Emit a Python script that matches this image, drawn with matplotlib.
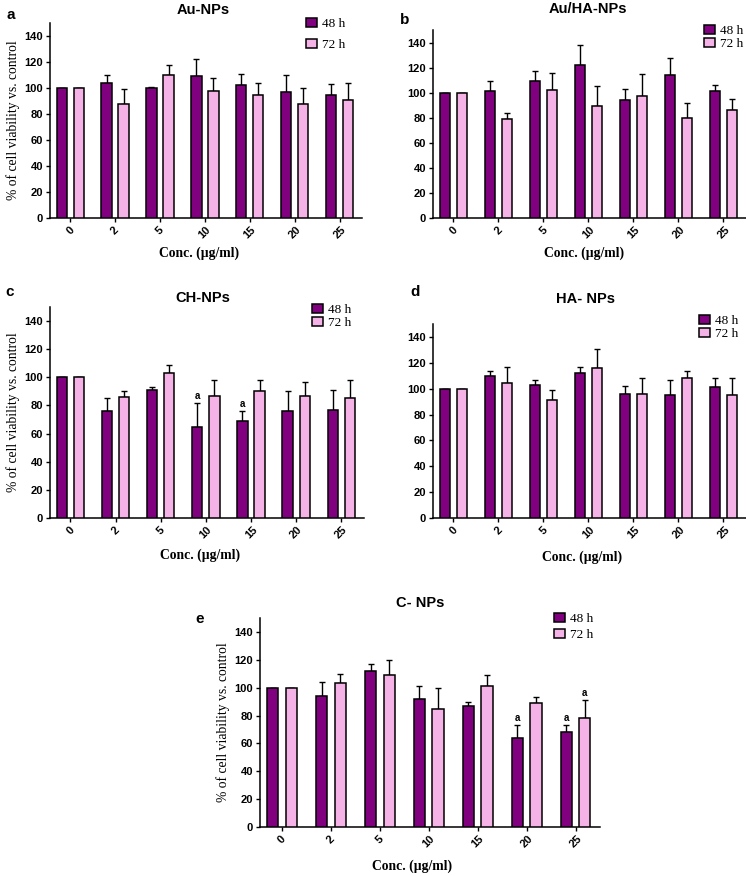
import matplotlib
matplotlib.use("Agg")
import matplotlib.pyplot as plt
import numpy as np

# concentrations (ug/ml)
conc = ["0", "2", "5", "10", "15", "20", "25"]

# a - Au-NPs
au_48 = [100, 104, 100, 109, 102, 97, 95]
au_48_sd = [0, 6, 1, 13, 9, 13, 8]
au_72 = [100, 88, 110, 98, 95, 88, 91]
au_72_sd = [0, 11, 8, 10, 9, 12, 13]

# b - Au/HA-NPs
auha_48 = [100, 101, 109, 122, 94, 114, 101]
auha_48_sd = [0, 8, 8, 16, 9, 14, 5]
auha_72 = [100, 79, 102, 89, 97, 80, 86]
auha_72_sd = [0, 5, 14, 16, 18, 12, 9]

# c - CH-NPs
ch_48 = [100, 76, 91, 65, 69, 76, 77]
ch_48_sd = [0, 9, 2, 17, 7, 14, 14]
ch_72 = [100, 86, 103, 87, 90, 87, 85]
ch_72_sd = [0, 4, 6, 11, 8, 10, 13]
ch_sig48 = [3, 4]
ch_sig72 = []

# d - HA-NPs
ha_48 = [100, 110, 103, 112, 96, 95, 101]
ha_48_sd = [0, 4, 4, 5, 6, 12, 7]
ha_72 = [100, 104, 91, 116, 96, 108, 95]
ha_72_sd = [0, 13, 8, 15, 12, 6, 13]

# e - C-NPs
c_48 = [100, 94, 112, 92, 87, 64, 68]
c_48_sd = [0, 10, 5, 9, 3, 9, 5]
c_72 = [100, 103, 109, 85, 101, 89, 78]
c_72_sd = [0, 7, 11, 15, 8, 4, 13]
c_sig48 = [5, 6]
c_sig72 = [6]

DARK = "#800080"
PINK = "#F5B2E6"
SERIF = "Liberation Serif"
SANS = "Liberation Sans"

W, H = 746, 876
fig = plt.figure(figsize=(W / 100, H / 100), dpi=100)


def fx(x):
    return x / W


def fy(y):
    return 1 - y / H


def panel(box, letter, letter_xy, title, title_xy, m48, s48, m72, s72,
          leg_xy, leg_space, xlab_xy, ylab=True, sig48=(), sig72=()):
    l, t, r, b = box
    ax = fig.add_axes([fx(l), fy(b), fx(r - l), (b - t) / H])
    x = np.arange(len(conc))
    w, off = 0.23, 0.19
    kw = dict(edgecolor="black", linewidth=1.1, zorder=3)
    ekw = dict(ecolor="black", elinewidth=1.0, capsize=2.5, capthick=1.0)
    b1 = ax.bar(x - off, m48, w, color=DARK, label="48 h", **kw)
    b2 = ax.bar(x + off, m72, w, color=PINK, label="72 h", **kw)
    ax.errorbar(x - off, m48, yerr=[np.zeros(len(s48)), s48], fmt="none", zorder=2, **ekw)
    ax.errorbar(x + off, m72, yerr=[np.zeros(len(s72)), s72], fmt="none", zorder=2, **ekw)
    for i in sig48:
        ax.text(x[i] - off, m48[i] + s48[i] + 1.5, "a", ha="center", va="bottom",
                fontsize=7, fontweight="bold", family=SANS)
    for i in sig72:
        ax.text(x[i] + off, m72[i] + s72[i] + 1.5, "a", ha="center", va="bottom",
                fontsize=7, fontweight="bold", family=SANS)

    ax.set_xlim(-0.45, 6.5)
    ax.set_ylim(0, 150)
    ax.set_yticks(range(0, 141, 20))
    ax.set_xticks(x)
    ax.set_xticklabels(conc, rotation=45, ha="center")
    for lab in ax.get_xticklabels() + ax.get_yticklabels():
        lab.set_fontweight("bold")
        lab.set_family(SANS)
        lab.set_fontsize(8)
    ax.tick_params(length=3, width=1.0, pad=2)
    for s in ["top", "right"]:
        ax.spines[s].set_visible(False)
    for s in ["left", "bottom"]:
        ax.spines[s].set_linewidth(1.1)

    if ylab:
        ax.set_ylabel("% of cell viability vs. control", family=SERIF,
                      fontsize=9.8, labelpad=3)
    fig.text(fx(xlab_xy[0]), fy(xlab_xy[1]), "Conc. (\u00b5g/ml)", family=SERIF,
             fontsize=9.8, fontweight="bold", ha="center", va="center")
    fig.text(fx(title_xy[0]), fy(title_xy[1]), title, family=SANS, fontsize=10.5,
             fontweight="bold", ha="center", va="center")
    fig.text(fx(letter_xy[0]), fy(letter_xy[1]), letter, family=SANS, fontsize=11,
             fontweight="bold", ha="center", va="center")
    ax.legend(handles=[b1, b2], loc="upper left",
              bbox_to_anchor=(fx(leg_xy[0]), fy(leg_xy[1])),
              bbox_transform=fig.transFigure, frameon=False, borderpad=0,
              borderaxespad=0, handlelength=0.85, handleheight=0.65,
              handletextpad=0.4, labelspacing=leg_space,
              prop={"family": SERIF, "size": 9.5})
    return ax


panel((50, 23, 362, 218), "a", (11, 15), "Au-NPs", (203, 10),
      au_48, au_48_sd, au_72, au_72_sd, (306, 18), 0.7, (199, 253))
panel((433, 30, 746, 218), "b", (405, 20), "Au/HA-NPs", (588, 9),
      auha_48, auha_48_sd, auha_72, auha_72_sd, (704, 25), 0.1, (584, 253),
      ylab=False)
panel((50, 307, 364, 518), "c", (10, 292), "CH-NPs", (203, 298),
      ch_48, ch_48_sd, ch_72, ch_72_sd, (312, 304), 0.1, (200, 555),
      sig48=ch_sig48, sig72=ch_sig72)
panel((433, 324, 746, 518), "d", (415, 292), "HA- NPs", (586, 299),
      ha_48, ha_48_sd, ha_72, ha_72_sd, (699, 315), 0.1, (582, 557),
      ylab=False)
panel((260, 618, 600, 827), "e", (200, 619), "C- NPs", (420, 603),
      c_48, c_48_sd, c_72, c_72_sd, (554, 613), 0.3, (412, 866),
      sig48=c_sig48, sig72=c_sig72)

fig.savefig("out.png", dpi=100)
